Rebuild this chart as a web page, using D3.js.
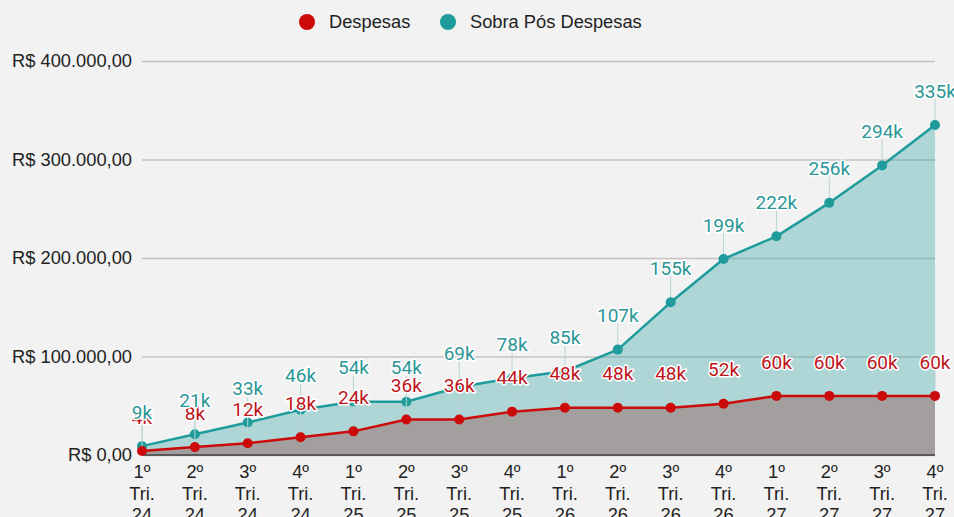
<!DOCTYPE html>
<html>
<head>
<meta charset="utf-8">
<script src="https://cdn.jsdelivr.net/npm/d3@7"></script>
<style>
  body { margin: 0; background: #f2f2f2; }
  svg { display: block; }
</style>
</head>
<body>
<svg width="954" height="517"></svg>
<script>
// quarters shown on the x axis
var quarters = ["1º Tri. 24", "2º Tri. 24", "3º Tri. 24", "4º Tri. 24",
                "1º Tri. 25", "2º Tri. 25", "3º Tri. 25", "4º Tri. 25",
                "1º Tri. 26", "2º Tri. 26", "3º Tri. 26", "4º Tri. 26",
                "1º Tri. 27", "2º Tri. 27", "3º Tri. 27", "4º Tri. 27"];
// Despesas
var despesas = [4000, 8000, 12000, 18000, 24000, 36000, 36000, 44000,
                48000, 48000, 48000, 52000, 60000, 60000, 60000, 60000];
// Sobra Pós Despesas
var sobra = [9000, 21000, 33000, 46000, 54000, 54000, 69000, 78000,
             85000, 107000, 155000, 199000, 222000, 256000, 294000, 335000];
var yTicks = [0, 100000, 200000, 300000, 400000];
var seriesNames = ["Despesas", "Sobra Pós Despesas"];

var red = "#cc0a0a", teal = "#1f9b9b";
var axisFont = "18.3px 'Liberation Sans', Arial, sans-serif";

var svg = d3.select("svg"),
    margin = {top: 61, right: 19, bottom: 62, left: 142},
    width = +svg.attr("width") - margin.left - margin.right,
    height = +svg.attr("height") - margin.top - margin.bottom;

var x = d3.scalePoint().domain(d3.range(quarters.length)).range([0, width]);
var y = d3.scaleLinear().domain([0, 400000]).range([height, 0]);

var g = svg.append("g")
    .attr("transform", "translate(" + margin.left + "," + margin.top + ")");

// money format R$ 400.000,00
var br = d3.formatLocale({decimal: ",", thousands: ".", grouping: [3], currency: ["R$ ", ""]});
var money = br.format("$,.2f");

// gridlines + y labels
var yAxis = d3.axisLeft(y).tickValues(yTicks).tickSize(-width).tickPadding(10).tickFormat(money);
g.append("g")
    .attr("class", "axis axis--y")
    .call(yAxis)
    .call(function(s) {
        s.select(".domain").remove();
        s.selectAll(".tick line").attr("stroke", "#c4c4c4").attr("stroke-width", 1.5);
        s.selectAll(".tick text")
            .attr("fill", "#222")
            .style("font", axisFont);
    });

var curve = d3.curveLinear;

// teal area (translucent, gridlines show through)
g.append("path")
    .datum(sobra)
    .attr("fill", teal)
    .attr("fill-opacity", 0.32)
    .attr("d", d3.area().curve(curve)
        .x(function(d, i) { return x(i); })
        .y0(height)
        .y1(function(d) { return y(d); }));

// grey area under despesas
g.append("path")
    .datum(despesas)
    .attr("fill", "#a29f9e")
    .attr("d", d3.area().curve(curve)
        .x(function(d, i) { return x(i); })
        .y0(height)
        .y1(function(d) { return y(d); }));

// baseline
g.append("line")
    .attr("x1", 0).attr("x2", width)
    .attr("y1", height).attr("y2", height)
    .attr("stroke", "#5a5a5a").attr("stroke-width", 2);

var labelOffset = 34;

function drawSeries(data, color) {
    // leader lines
    g.append("g").selectAll("line")
        .data(data).enter()
        .append("line")
        .attr("x1", function(d, i) { return x(i); })
        .attr("x2", function(d, i) { return x(i); })
        .attr("y1", function(d) { return y(d); })
        .attr("y2", function(d) { return y(d) - labelOffset + 8; })
        .attr("stroke", "#b8d4d4")
        .attr("stroke-width", 1);

    g.append("path")
        .datum(data)
        .attr("fill", "none")
        .attr("stroke", color)
        .attr("stroke-width", 2.5)
        .attr("stroke-linejoin", "round")
        .attr("d", d3.line().curve(curve)
            .x(function(d, i) { return x(i); })
            .y(function(d) { return y(d); }));

    g.append("g").selectAll("circle")
        .data(data).enter()
        .append("circle")
        .attr("cx", function(d, i) { return x(i); })
        .attr("cy", function(d) { return y(d); })
        .attr("r", 5)
        .attr("fill", color);
}

function drawLabels(data, color) {
    g.append("g").selectAll("text")
        .data(data).enter()
        .append("text")
        .attr("x", function(d, i) { return x(i); })
        .attr("y", function(d) { return y(d) - labelOffset; })
        .attr("dy", "0.35em")
        .attr("text-anchor", "middle")
        .attr("fill", color)
        .attr("stroke", "#fff")
        .attr("stroke-width", 3)
        .attr("stroke-linejoin", "round")
        .attr("paint-order", "stroke")
        .style("font", "19px Roboto, sans-serif")
        .text(function(d) { return Math.round(d / 1000) + "k"; });
}

drawSeries(sobra, teal);
drawSeries(despesas, red);
drawLabels(despesas, "#c0141c");
drawLabels(sobra, "#2a9696");

// x labels, three lines each
var xl = g.append("g").selectAll("text")
    .data(quarters).enter()
    .append("text")
    .attr("x", function(d, i) { return x(i); })
    .attr("y", height + 23)
    .attr("text-anchor", "middle")
    .attr("fill", "#222")
    .style("font", axisFont);
xl.each(function(d) {
    var t = d3.select(this);
    d.split(" ").forEach(function(part, k) {
        t.append("tspan")
            .attr("x", t.attr("x"))
            .attr("dy", k === 0 ? 0 : 21.5)
            .text(part);
    });
});

// legend
var legend = svg.append("g").attr("transform", "translate(307,22)");
var legendX = [0, 141];
seriesNames.forEach(function(name, i) {
    var item = legend.append("g").attr("transform", "translate(" + legendX[i] + ",0)");
    item.append("circle").attr("r", 8).attr("fill", i === 0 ? red : teal);
    item.append("text")
        .attr("x", 22)
        .attr("dy", "0.35em")
        .attr("fill", "#222")
        .style("font", axisFont)
        .text(name);
});
</script>
</body>
</html>
